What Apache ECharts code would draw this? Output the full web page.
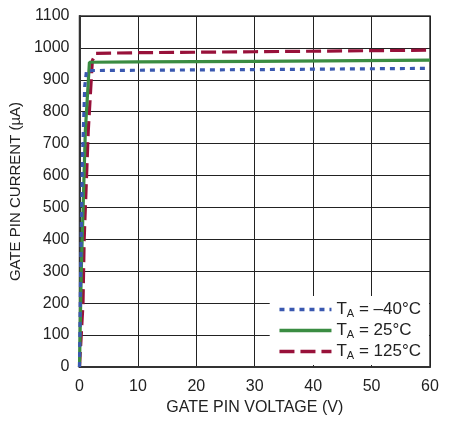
<!DOCTYPE html>
<html><head><meta charset="utf-8">
<script src="https://cdn.jsdelivr.net/npm/echarts@6/dist/echarts.min.js"></script>
<style>html,body{margin:0;padding:0;background:#fff}#c{width:457px;height:423px}</style>
</head><body><div id="c"></div>
<script>
var seriesNames = ['T_A = –40°C', 'T_A = 25°C', 'T_A = 125°C'];
var legendSuffix = [' = –40°C', ' = 25°C', ' = 125°C'];
var blueData = [[0,0],[0.2,300],[0.5,650],[0.9,880],[1.2,929],[10,930],[30,932],[60,936]];
var greenData = [[0,0],[0.3,300],[0.7,550],[1.0,740],[1.7,955],[10,956],[30,958],[60,962]];
var redData = [[0,0],[0.6,200],[0.8,400],[1.5,740],[2.2,960],[2.8,983],[10,985],[30,988],[60,993]];
var xTicks = [0,10,20,30,40,50,60];
var yTicks = [0,100,200,300,400,500,600,700,800,900,1000,1100];

var font = 'Liberation Sans, Arial, sans-serif';
var chart = echarts.init(document.getElementById('c'));
chart.setOption({
  animation: false,
  grid: {left: 79, right: 27, top: 16, bottom: 56, show: true, borderColor: '#333', borderWidth: 1.5, backgroundColor: 'transparent'},
  xAxis: {
    type: 'value', min: xTicks[0], max: xTicks[xTicks.length-1], interval: 10,
    name: 'GATE PIN VOLTAGE (V)', nameLocation: 'middle', nameGap: 33,
    nameTextStyle: {fontFamily: font, fontSize: 16, color: '#222'},
    axisLine: {show: true, lineStyle: {color: '#333', width: 2}},
    axisTick: {show: false},
    axisLabel: {fontFamily: font, fontSize: 16, color: '#222', margin: 12, formatter: function (v) { return String(v); }},
    splitLine: {show: true, lineStyle: {color: '#222', width: 1}}
  },
  yAxis: {
    type: 'value', min: yTicks[0], max: yTicks[yTicks.length-1], interval: 100,
    name: 'GATE PIN CURRENT (µA)', nameLocation: 'middle', nameGap: 43,
    nameTextStyle: {fontFamily: font, fontSize: 15, color: '#222'},
    axisLine: {show: true, lineStyle: {color: '#333', width: 2}},
    axisTick: {show: false},
    axisLabel: {fontFamily: font, fontSize: 16, color: '#222', margin: 10, formatter: function (v) { return String(v); }},
    splitLine: {show: true, lineStyle: {color: '#222', width: 1}}
  },
  legend: {
    right: 28, bottom: 58, orient: 'vertical', itemGap: 3,
    itemWidth: 52, itemHeight: 14,
    backgroundColor: '#fff', padding: [5, 8, 4, 8],
    itemStyle: {opacity: 0},
    lineStyle: {width: 3.5},
    data: seriesNames,
    formatter: function (n) { return '{t|T}{s|A}{t|' + legendSuffix[seriesNames.indexOf(n)] + '}'; },
    textStyle: {
      fontFamily: font, fontSize: 16, color: '#222',
      rich: {t: {fontFamily: font, fontSize: 17, color: '#222'}, s: {fontFamily: font, fontSize: 11, color: '#222', padding: [8, 0, 0, 0]}}
    }
  },
  series: [
    {name: seriesNames[0], type: 'line', data: blueData, symbol: 'none', z: 3,
     lineStyle: {color: '#3a58b0', width: 3.2, type: [5, 5]}, itemStyle: {color: '#3a58b0'}},
    {name: seriesNames[1], type: 'line', data: greenData, symbol: 'none', z: 2,
     lineStyle: {color: '#3a8c42', width: 3.2, type: 'solid'}, itemStyle: {color: '#3a8c42'}},
    {name: seriesNames[2], type: 'line', data: redData, symbol: 'none', z: 1,
     lineStyle: {color: '#98113a', width: 3.2, type: [15, 6]}, itemStyle: {color: '#98113a'}}
  ]
});
</script></body></html>
